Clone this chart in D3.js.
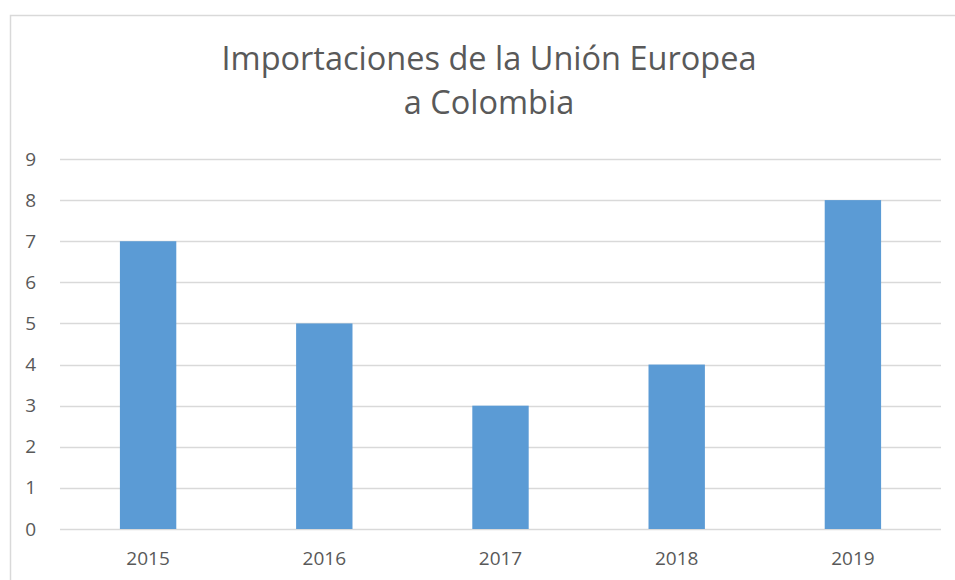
<!DOCTYPE html>
<html>
<head>
<meta charset="utf-8">
<script src="https://cdn.jsdelivr.net/npm/d3@7"></script>
<style>
  body { margin: 0; background: #fff; }
  svg { display: block; }
</style>
</head>
<body>
<div id="chart"></div>
<script>
const years = ["2015", "2016", "2017", "2018", "2019"];
const values = [7, 5, 3, 4, 8];
const yTicks = [0, 1, 2, 3, 4, 5, 6, 7, 8, 9];
const titleLines = ["Importaciones de la Unión Europea", "a Colombia"];

const width = 955;
const height = 580;
const margin = { top: 159, right: 14, bottom: 51, left: 60 };

const svg = d3.select("#chart").append("svg")
  .attr("width", width)
  .attr("height", height);

// chart frame (runs off the right/bottom edge)
svg.append("rect")
  .attr("x", 10.5)
  .attr("y", 15.5)
  .attr("width", 960)
  .attr("height", 600)
  .attr("fill", "#fff")
  .attr("stroke", "#d9d9d9")
  .attr("stroke-width", 1.5);

const x = d3.scaleBand()
  .domain(years)
  .range([margin.left, width - margin.right])
  .paddingInner(0.68)
  .paddingOuter(0.34);

const y = d3.scaleLinear()
  .domain([0, 9])
  .range([height - margin.bottom, margin.top]);

// gridlines
svg.append("g")
  .selectAll("line")
  .data(yTicks)
  .enter()
  .append("line")
  .attr("x1", margin.left)
  .attr("x2", width - margin.right)
  .attr("y1", d => Math.round(y(d)) + 0.5)
  .attr("y2", d => Math.round(y(d)) + 0.5)
  .attr("stroke", "#d9d9d9")
  .attr("stroke-width", 1.3);

// bars
svg.append("g")
  .selectAll("rect")
  .data(values)
  .enter()
  .append("rect")
  .attr("x", (d, i) => x(years[i]))
  .attr("y", d => y(d))
  .attr("width", x.bandwidth())
  .attr("height", d => y(0) - y(d))
  .attr("fill", "#5b9bd5");

// y axis labels
const yAxis = d3.axisLeft(y).tickValues(yTicks).tickSize(0).tickPadding(24);
const yg = svg.append("g")
  .attr("transform", `translate(${margin.left},0)`)
  .call(yAxis);
yg.select(".domain").remove();
yg.selectAll("text")
  .attr("fill", "#595959")
  .style("font-family", "'Open Sans', sans-serif")
  .style("font-size", "19px");

// x axis labels
const xAxis = d3.axisBottom(x).tickSize(0).tickPadding(23);
const xg = svg.append("g")
  .attr("transform", `translate(0,${height - margin.bottom})`)
  .call(xAxis);
xg.select(".domain").remove();
xg.selectAll("text")
  .attr("fill", "#595959")
  .style("font-family", "'Open Sans', sans-serif")
  .style("font-size", "19px");

// title
svg.append("text")
  .attr("x", 490)
  .attr("y", 70)
  .attr("text-anchor", "middle")
  .attr("fill", "#595959")
  .style("font-family", "'Open Sans', sans-serif")
  .style("font-size", "32.5px")
  .selectAll("tspan")
  .data(titleLines)
  .enter()
  .append("tspan")
  .attr("x", 489)
  .attr("dy", (d, i) => i === 0 ? 0 : 44)
  .text(d => d);
</script>
</body>
</html>
